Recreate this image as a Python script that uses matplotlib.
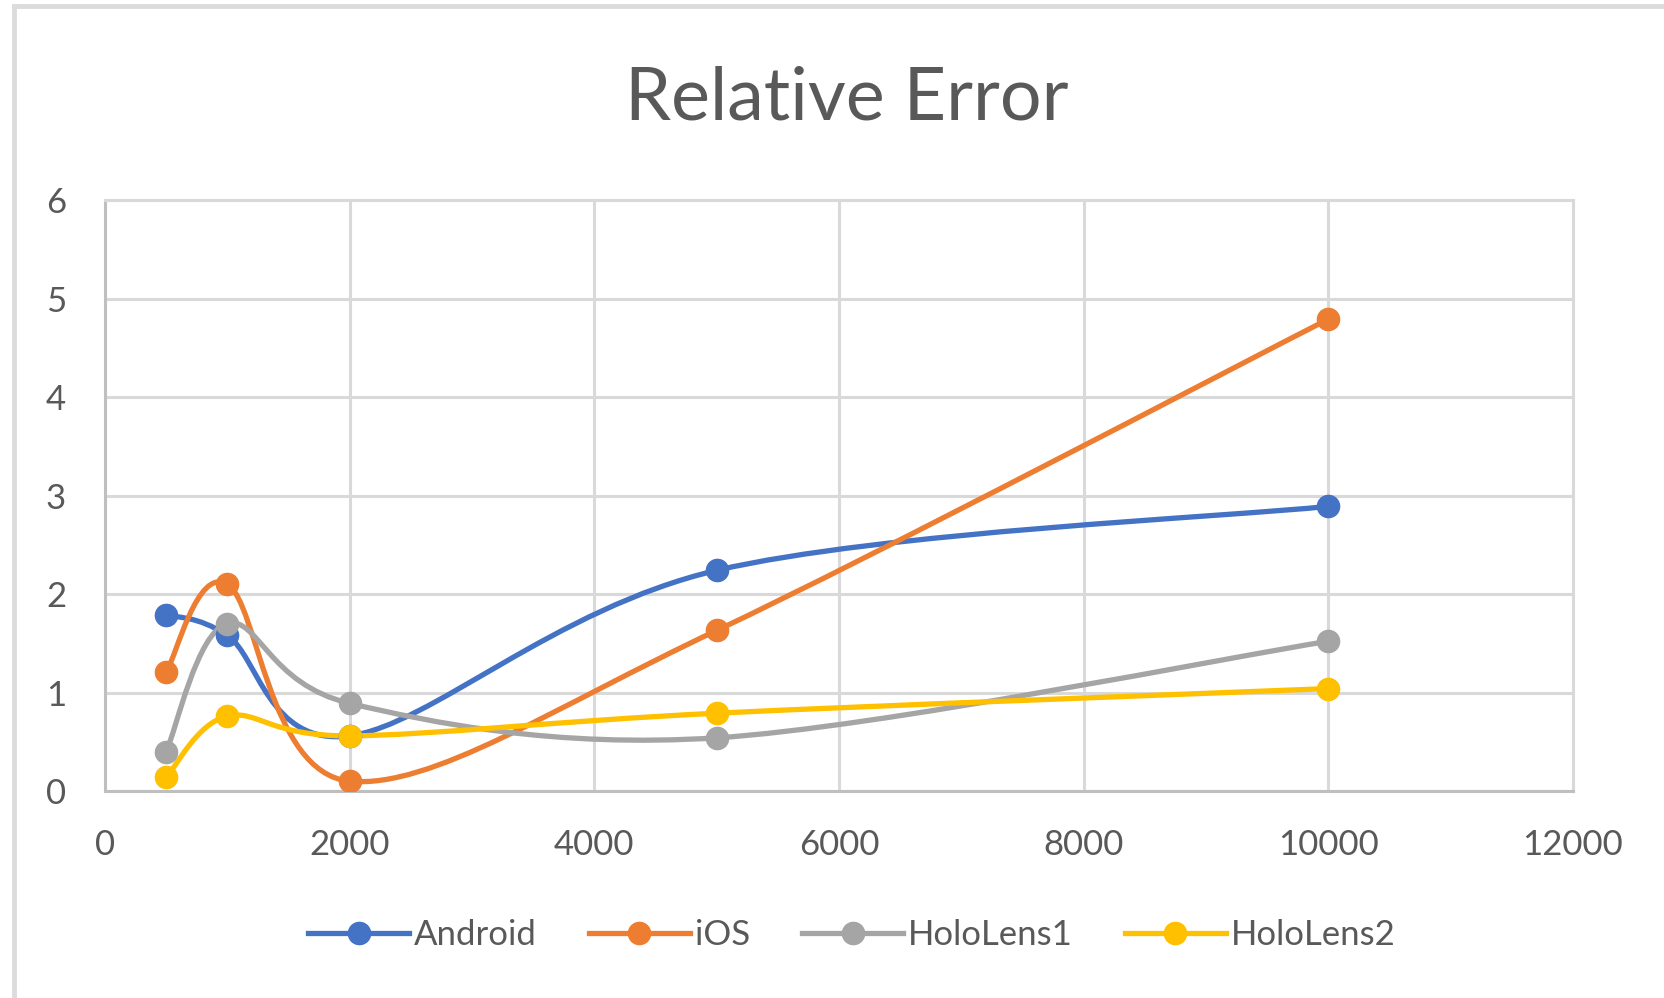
import numpy as np
import matplotlib
matplotlib.use("Agg")
import matplotlib.pyplot as plt
from matplotlib.path import Path
from matplotlib.patches import PathPatch
from matplotlib.lines import Line2D

plt.rcParams['font.family'] = ['Lato', 'DejaVu Sans']

sizes = [500, 1000, 2000, 5000, 10000]
android = [1.79, 1.58, 0.56, 2.24, 2.89]
ios = [1.21, 2.10, 0.10, 1.63, 4.79]
hololens1 = [0.40, 1.70, 0.89, 0.54, 1.52]
hololens2 = [0.14, 0.76, 0.56, 0.79, 1.04]

series = [
    ("Android", android, "#4472C4"),
    ("iOS", ios, "#ED7D31"),
    ("HoloLens1", hololens1, "#A5A5A5"),
    ("HoloLens2", hololens2, "#FFC000"),
]

text_col = "#595959"
grid_col = "#D9D9D9"


def smooth_path(xs, ys):
    """excel-like smoothed line as bezier segments"""
    pts = np.column_stack([xs, ys]).astype(float)
    n = len(pts)
    ext = np.vstack([pts[0], pts, pts[-1]])
    verts = [pts[0]]
    codes = [Path.MOVETO]
    for i in range(n - 1):
        p_prev, p0, p1, p_next = ext[i], ext[i + 1], ext[i + 2], ext[i + 3]
        c1 = p0 + (p1 - p_prev) / 6
        c2 = p1 - (p_next - p0) / 6
        verts += [c1, c2, p1]
        codes += [Path.CURVE4] * 3
    return Path(verts, codes)


fig = plt.figure(figsize=(16.64, 9.98), dpi=100)
ax = fig.add_axes([0.0631, 0.2074, 0.8822, 0.5922])

for name, vals, col in series:
    ax.add_patch(PathPatch(smooth_path(sizes, vals), facecolor="none",
                           edgecolor=col, lw=3.8, capstyle="round", zorder=3))
    ax.plot(sizes, vals, linestyle="none", marker="o", markersize=16,
            color=col, zorder=4)

ax.set_xlim(0, 12000)
ax.set_ylim(0, 6)
ax.set_xticks(range(0, 12001, 2000))
ax.set_yticks(range(0, 7))
ax.grid(True, color=grid_col, lw=2.2)
ax.set_axisbelow(True)
for s in ax.spines.values():
    s.set_color(grid_col)
    s.set_linewidth(2.2)
ax.spines['left'].set_color("#BFBFBF")
ax.spines['bottom'].set_color("#BFBFBF")
ax.tick_params(length=0, labelsize=25, labelcolor=text_col)
ax.tick_params(axis='y', pad=28)
ax.tick_params(axis='x', pad=27)

fig.text(0.509, 0.901, "Relative Error", ha="center", va="center",
         fontsize=53, color=text_col)

handles = [Line2D([], [], color=c, lw=3.8, marker="o", markersize=16)
           for _, _, c in series]
fig.legend(handles, [s[0] for s in series], loc="center",
           bbox_to_anchor=(0.512, 0.063), ncol=4, frameon=False,
           fontsize=25, labelcolor=text_col, handlelength=2.9,
           handletextpad=0.15, columnspacing=1.5)

# grey frame of the screenshot
fig.add_artist(Line2D([14, 14], [0, 992], transform=None, color="#DCDCDC", lw=3.5))
fig.add_artist(Line2D([14, 1664], [992, 992], transform=None, color="#DCDCDC", lw=3.5))

fig.savefig("out.png", dpi=100, facecolor="white")
